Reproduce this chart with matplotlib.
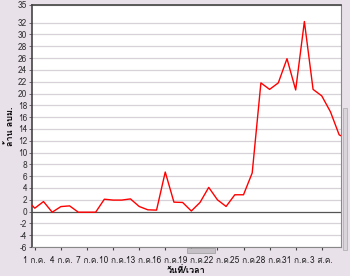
import matplotlib
matplotlib.use("Agg")
import matplotlib.pyplot as plt
from matplotlib import font_manager, ft2font
from matplotlib.patches import Rectangle

# buscar una fuente instalada con glifos tailandeses
familias_thai = []
for f in font_manager.fontManager.ttflist:
    try:
        cmap = ft2font.FT2Font(f.fname).get_charmap()
    except Exception:
        continue
    if 0x0E01 in cmap and 0x0E25 in cmap and f.name not in familias_thai:
        familias_thai.append(f.name)

plt.rcParams['font.family'] = familias_thai[:1] + ['DejaVu Sans']

# วันที่ (นับจาก 1 ก.ค.) และปริมาณน้ำ (ล้าน ลบม.)
dias = list(range(-1, 37))
valores = [2.0, 0.58, 1.7, -0.1, 0.85, 0.97, -0.1, -0.1, -0.1, 2.1,
           1.95, 1.95, 2.15, 0.87, 0.3, 0.25, 6.7, 1.6, 1.55, 0.1,
           1.55, 4.1, 2.0, 0.87, 2.85, 2.85, 6.55, 21.8, 20.7, 21.8,
           25.9, 20.6, 32.2, 20.7, 19.6, 16.9, 13.0, 12.3]

tick_dias = [0, 3, 6, 9, 12, 15, 18, 21, 24, 27, 30, 33]
tick_labels = ["1 ก.ค.", "4 ก.ค.", "7 ก.ค.", "10 ก.ค.", "13 ก.ค.", "16 ก.ค.",
               "19 ก.ค.", "22 ก.ค.", "25 ก.ค.", "28 ก.ค.", "31 ก.ค.", "3 ส.ค."]
y_ticks = list(range(-6, 33, 2)) + [35]

fondo = '#e9e1ea'
fig = plt.figure(figsize=(3.5, 2.76), dpi=100, facecolor=fondo)
ax = fig.add_axes([0.092, 0.105, 0.882, 0.877])
ax.set_facecolor('white')

for y in y_ticks:
    if y != 0:
        ax.axhline(y, color='#d6d2d8', lw=0.9, zorder=1)
ax.axhline(0, color='#555555', lw=0.9, zorder=2)

ax.plot(dias, valores, color='#ff0000', lw=1.0, zorder=3)

ax.set_xlim(-0.3, 35.2)
ax.set_ylim(-6, 35)
ax.set_yticks(y_ticks)
ax.set_yticklabels([str(y) for y in y_ticks], fontsize=6, color='#333333')
ax.set_xticks(tick_dias)
ax.set_xticklabels(tick_labels, fontsize=6, color='#222222')
ax.tick_params(axis='y', length=2.5, width=0.6, pad=1, color='#555555')
ax.tick_params(axis='x', length=2, width=0.8, pad=4.5, color='#444444')

for lado in ['left', 'top']:
    ax.spines[lado].set_color('#444444')
    ax.spines[lado].set_linewidth(1.2)
for lado in ['right', 'bottom']:
    ax.spines[lado].set_color('#888888')
    ax.spines[lado].set_linewidth(0.8)

ax.set_ylabel("ล้าน ลบม.", fontsize=6.5, fontweight='bold', labelpad=2)
ax.set_xlabel("วันที่/เวลา", fontsize=6.5, fontweight='bold', labelpad=0.5)

# barras de desplazamiento
fig.patches.append(Rectangle((187 / 350, 1 - 253 / 276), 28 / 350, 5 / 276,
                             transform=fig.transFigure, facecolor='#c4c0c6',
                             edgecolor='#999999', lw=0.5))
fig.patches.append(Rectangle((343 / 350, 1 - 250 / 276), 4 / 350, 142 / 276,
                             transform=fig.transFigure, facecolor='#d8d4da',
                             edgecolor='#aaaaaa', lw=0.5))

fig.savefig("out.png", dpi=100, facecolor=fondo)
